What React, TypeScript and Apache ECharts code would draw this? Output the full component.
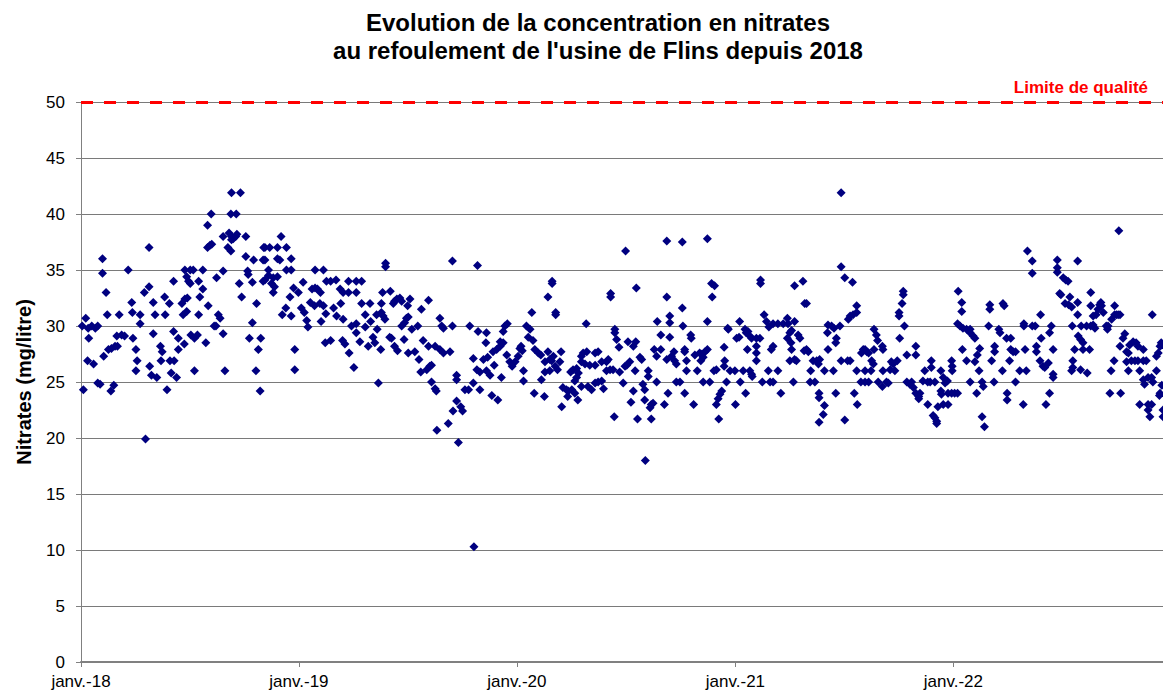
import React, { useEffect, useRef } from "react";
import * as echarts from "echarts";

const titleLines = [
  "Evolution de la concentration en nitrates",
  "au refoulement de l'usine de Flins depuis 2018",
];
const yAxisName = "Nitrates (mg/litre)";
const limitLabel = "Limite de qualité";
const limitValue = 50;
const xTickLabels: Record<number, string> = {
  2018: "janv.-18",
  2019: "janv.-19",
  2020: "janv.-20",
  2021: "janv.-21",
  2022: "janv.-22",
};
const startYear = 2018;
const endDayOffset = 1812;

// [days since 1 Jan 2018, nitrates mg/l]
const points2018: [number, number][] = [
  [2,30],[4,24.3],[8,30.7],[11,26.9],[12,29.8],[13,28.9],[18,30],[21,26.6],[24,29.8],[28,30],[28,24.9],[32,24.8],[36,36],[36,34.7],[38,27.3],[42,33],[44,31],[46,27.9],[50,24.2],[51,28],[55,24.7],[57,28.2],[60,29.1],[61,28.2],[64,31],[68,29.2],[73,29.1],[79,35],[85,32.1],[86,31.2],[87,28.9],[92,27.9],[92,26],[94,26.9],[99,31],[99,30.2],[106,33],[108,19.9],[114,37],[114,33.5],[115,26.4],[118,25.6],[121,32.1],[121,29.3],[124,31],[127,25.4],[133,28.2],[134,26.9],[136,27.7],[140,32.6],[141,31],[144,24.3],[148,32],[149,26.9],[151,25.8],[155,34],[155,29.5],[156,26.9],[160,25.4],[163,28.9],[163,27.9],[169,32],[171,31],[173,28.4],[174,35],[174,32.4],[177,34.4],[177,31.3],[178,32.5],[180,34],[183,35],[183,33.8],[184,29.2],[188,35],[190,28.9],[190,26],[195,29.2],[197,34],[197,31],[199,32.6],[204,35],[204,33.3],[209,28.5],[212,39],[212,37],[213,31.8],[216,37.2],[218,40],[219,37.3],[223,30],[226,30],[227,34.3],[230,31],[233,30.7],[238,34.9],[238,29.3],[238,38],[241,26],[246,37],[248,38.3],[251,36.7],[251,40],[252,38],[252,37.7],[252,41.9],[255,37.8],[259,38],[260,40],[261,38.2],[265,33.8],[267,41.9],[269,32.6],[276,38],[276,36.2],[279,34.9],[280,34.6],[282,28.9],[287,33.9],[287,30.3],[289,35.9],[293,26],[294,32],[297,27.9],[300,24.2],[301,28.9],[305,35.9],[305,34],[306,37],[308,37],[308,35.9],[308,34.1],[314,35],[314,34.5],[316,37],[319,33.8],[322,34.3],[322,33],[324,33.5],[329,37],[329,36],[329,34.4],[333,35.9],[335,38],[337,31],[343,31.6],[344,37],[344,35],[350,32.6],[352,36],[352,35],[352,30.9],[356,33.4],[358,27.9],[358,26.1],[364,33],
];
const points2019: [number, number][] = [
  [369,31.6],[372,33.9],[374,31.2],[378,30.5],[380,29.9],[384,32.1],[387,33.3],[391,31.8],[392,33.4],[392,35],[396,33.3],[400,32],[401,33],[402,30.4],[406,35],[406,31.8],[409,28.5],[410,31.1],[411,34],[418,34],[418,28.7],[423,31.6],[427,34.1],[428,30.9],[434,33.3],[435,32],[438,28.7],[439,33],[439,30.6],[442,28.4],[448,33],[448,34],[449,27.6],[453,30],[457,26.3],[461,33],[461,34],[461,30.2],[461,29.4],[467,28.6],[470,34],[470,32],[476,31],[476,29.9],[481,28.2],[484,32],[485,30.4],[489,29],[492,28.5],[495,31],[496,29.7],[498,24.9],[502,27.9],[503,32],[503,31.2],[505,33],[506,30.9],[509,30.6],[510,35.6],[510,35.3],[517,29],[518,33.1],[520,28.9],[523,32],[525,32.2],[525,28.2],[529,32.4],[530,27.8],[534,32.5],[537,32.2],[537,30],[541,28.8],[542,30.3],[545,30.7],[547,31.8],[548,30.8],[548,27.6],[551,32.4],[554,29.7],[559,27.7],[564,30],[566,27],[569,25.9],[570,31.5],[573,28.7],[579,26.1],[582,32.3],[582,28.2],[584,26.4],[587,26.5],[587,25],[593,28.2],[593,24.4],[595,24.2],[596,20.7],[601,30.7],[601,27.9],[604,30],[607,29.8],[607,27.6],[615,21.3],[618,27.7],[622,35.8],[622,30],[623,22.4],[629,25.6],[629,25.2],[629,23.3],[632,19.6],[636,22.8],[639,22.4],[643,24.3],[649,24.3],[651,30],[657,27.1],[657,24.9],[658,10.3],[663,26.1],[664,35.4],[665,29.5],[668,25.9],[668,24.3],[674,27],[678,28.5],[679,29.4],[679,26],[681,27.2],[685,25.6],[688,23.8],[690,27.7],[692,26.5],[696,27.9],[698,23.4],[702,28.2],[702,28.6],[704,25.4],[707,29.5],[707,28.5],[710,30],[713,27.4],[714,30.2],[718,26.8],[722,26.4],[727,26.8],
];
const points2020: [number, number][] = [
  [732,27.3],[735,28],[737,28.2],[739,27.8],[741,26],[741,25.1],[746,30],[749,29],[752,29.7],[755,31.2],[757,28.7],[759,24],[760,27.9],[766,27.6],[770,27.4],[771,25.2],[776,23.7],[777,25.9],[777,26.8],[782,27.7],[782,32.6],[785,26],[785,27],[788,26.9],[789,33.8],[789,34],[791,27.3],[794,26.4],[795,31.2],[795,31],[798,26.1],[802,26.8],[804,27.7],[805,22.8],[807,24.5],[813,24.3],[815,23.7],[816,24.2],[820,25.9],[822,24.3],[824,26.1],[827,24],[827,25.1],[830,26.2],[830,25.4],[832,23.4],[833,25.8],[838,27.3],[838,26.8],[838,24.6],[841,27.6],[844,26.6],[846,30.2],[847,27.7],[849,24.6],[852,26.5],[855,24.3],[861,26.5],[861,27.6],[861,24.9],[866,27.7],[866,25],[872,26.8],[872,25.1],[875,24.4],[880,26.8],[880,26],[883,27],[886,26.1],[887,32.9],[887,32.6],[891,26.1],[893,21.9],[894,29.7],[894,29.4],[897,28.8],[901,28.1],[902,25.9],[908,24.9],[911,26.4],[912,36.7],[914,26.5],[916,28.6],[919,26.8],[921,23.2],[925,28.2],[925,24.2],[928,26],[929,28.6],[930,33.4],[932,21.7],[936,27.2],[939,27],[941,24.8],[944,24.3],[944,23.4],[945,18],[950,26],[950,25.5],[953,22.7],[955,23],[955,21.7],[958,23.1],[960,27.9],[964,27.3],[964,25],[965,30.4],[971,27.9],[971,29.2],[977,23],[981,37.6],[981,32.6],[981,27],[983,24],[986,30.9],[986,30.3],[986,29],[989,27.3],[993,27.7],[994,26.9],[997,26.6],[997,25],[1003,25],[1007,37.5],[1007,31.6],[1008,30],[1011,27.9],[1011,27.7],[1011,24],[1014,26.9],[1014,26],[1021,29.2],[1022,28.9],[1026,23],[1028,27.4],[1032,26],[1036,27.6],[1038,26.9],[1040,27.5],[1042,27.2],[1042,25],[1045,27.7],[1049,37.8],[1049,30.4],[1049,27.9],[1053,25],[1056,33.8],[1057,32.6],[1060,26],[1061,33.6],[1064,26.1],[1064,23],[1067,23.5],[1068,21.7],[1070,23.9],[1073,24.2],[1077,28.1],[1077,26.4],[1078,26.9],[1081,25],[1083,29.8],[1084,29.7],[1087,26],[1095,26],
];
const points2021: [number, number][] = [
  [1096,23],[1098,28.9],[1102,29],[1103,30.4],[1104,25],[1109,26],[1112,29.7],[1113,24],[1114,29.4],[1116,27.9],[1117,29.5],[1120,29.1],[1120,26],[1123,28.9],[1123,25.7],[1124,25.5],[1131,28.9],[1131,28.2],[1131,27.6],[1131,26.9],[1137,28.9],[1138,34.1],[1138,33.8],[1141,25],[1144,31],[1148,30.4],[1151,26],[1152,29.9],[1154,25],[1156,27.9],[1159,30.2],[1159,28.2],[1159,25],[1167,30.2],[1167,26],[1172,24],[1176,30.2],[1183,30.7],[1183,28.9],[1184,30.2],[1187,29.4],[1187,26.9],[1189,28.5],[1190,29.6],[1190,27.9],[1193,25],[1195,30.4],[1195,33.6],[1195,27],[1198,26.9],[1201,29.2],[1204,28.9],[1209,34],[1211,27.8],[1212,32],[1215,32],[1215,27.9],[1218,27.7],[1221,25],[1222,26],[1226,26.9],[1229,25],[1232,26.9],[1235,26.6],[1236,24],[1236,23.6],[1236,21.4],[1237,27],[1243,22.1],[1245,22.9],[1245,26],[1250,29.4],[1251,30.1],[1251,27.9],[1257,30],[1260,26],[1261,29.8],[1264,28.5],[1264,24],[1265,28.9],[1271,30],[1273,41.9],[1273,35.3],[1273,26.9],[1279,34.3],[1279,21.6],[1284,26.9],[1285,30.6],[1288,30.9],[1288,26.9],[1292,33.9],[1293,31],[1295,24],[1299,31.2],[1299,31.8],[1299,26],[1300,23],[1306,25],[1307,27.6],[1310,27.9],[1313,27.9],[1313,25],[1313,26],[1316,27.7],[1319,27.6],[1319,25],[1323,26],[1324,26.9],[1327,26.6],[1328,29.7],[1328,27.9],[1332,29.2],[1334,28.7],[1335,25],[1342,28.2],[1342,24.6],[1343,27.9],[1343,26],[1349,25],[1352,24.9],[1355,26.1],[1357,26.8],[1360,26.6],[1363,26],[1367,26.9],[1370,30.9],[1370,31.2],[1371,28.9],[1375,32],[1377,33.1],[1377,32.8],[1379,30],[1383,27.4],[1383,25],[1388,24.8],[1391,25],[1394,24.5],[1398,28.2],[1398,27.4],[1398,24],[1403,23.7],[1403,23.5],[1405,24],[1410,25.1],[1413,26],[1418,25],[1418,23],[1422,25],[1424,26.9],[1424,26.3],[1427,22],[1430,21.8],[1430,25],[1433,21.5],[1433,21.3],[1435,22.8],[1440,26],[1440,24.2],[1441,23.9],[1444,25.4],[1444,23],[1447,24.9],[1451,25.1],[1452,24],[1452,23],[1458,24],[1458,26.9],[1459,26.4],[1459,26],
];
const points2022: [number, number][] = [
  [1463,24],[1468,24],[1469,33.1],[1468,30.2],[1472,30],[1475,32.1],[1475,31.3],[1476,27.9],[1477,29.8],[1483,29.7],[1483,26.9],[1489,29.7],[1489,29.4],[1489,25],[1494,29.1],[1497,28.9],[1497,26.8],[1500,24],[1501,27.4],[1504,26],[1505,28],[1509,25],[1509,21.9],[1511,24.6],[1513,21],[1520,30],[1522,31.9],[1522,31.5],[1525,26.9],[1529,25],[1530,28.2],[1530,27.7],[1537,29.7],[1539,29.4],[1543,26],[1544,32],[1546,31.8],[1550,28.9],[1551,24],[1551,23.4],[1555,26.9],[1557,28.9],[1557,27.9],[1561,27.7],[1565,27.7],[1565,25],[1572,26],[1578,23],[1579,30.2],[1579,30],[1581,27.9],[1583,26],[1585,36.7],[1593,35.8],[1593,34.7],[1593,30],[1598,30],[1600,28.2],[1600,27.7],[1606,26.9],[1607,31],[1608,28.9],[1611,26.4],[1614,26.3],[1616,23],[1620,26.7],[1622,29.4],[1622,24],[1625,30],[1628,27.9],[1628,25.7],[1628,25.4],[1635,35.9],[1635,35.2],[1635,34.8],[1639,32.9],[1641,32.8],[1645,34.3],[1648,32],[1649,34.1],[1653,34],[1654,31.9],[1656,32.6],[1659,31.7],[1659,26],[1660,30],[1661,26.9],[1661,26.3],[1664,27.9],[1669,35.8],[1669,32.1],[1669,31],[1670,29.1],[1674,28.8],[1674,26.1],[1675,30],[1678,28.5],[1678,27.9],[1684,30],[1685,25.8],[1689,27.9],[1691,30],[1691,33],[1691,31.8],[1695,30.1],[1695,30.9],[1698,29.8],[1700,31],[1703,31.5],[1706,31.9],[1708,32.1],[1709,31.8],[1712,31.2],[1717,30],[1719,29.7],[1720,30],[1723,24],[1725,26],[1726,30.6],[1730,26.9],[1731,31],[1731,31.8],[1734,31],[1737,31],[1738,38.5],[1740,31],[1740,28.2],[1741,24],[1745,28.9],[1748,29.3],[1751,27.7],[1751,26.8],[1754,27.6],[1754,26],[1756,28.3],[1759,26.9],[1762,28.6],[1765,26.9],[1767,28.5],[1770,28.2],[1770,26.9],[1773,26],[1773,23],[1779,26.9],[1779,27.9],[1779,25.2],[1781,24.8],[1784,26.9],[1787,25.4],[1787,23],[1787,22.5],[1790,21.9],[1793,25.4],[1793,23],[1794,31],[1795,25],[1801,26],[1801,27.3],[1804,27.6],[1806,23.8],[1807,28.2],[1807,24],[1809,28.5],[1810,28.3],[1810,24.7],[1812,22.5],[1812,21.9],
];

const dayToTime = (d: number) => new Date(startYear, 0, 1 + d).getTime();

export default function App() {
  const ref = useRef<HTMLDivElement>(null);
  useEffect(() => {
    if (!ref.current) return;
    const chart = echarts.init(ref.current, undefined, { renderer: "svg" });
    const all = [...points2018, ...points2019, ...points2020, ...points2021, ...points2022];
    const data = all.map(([d, v]) => [dayToTime(d), v]);
    const font = "Arial, 'Liberation Sans', sans-serif";
    chart.setOption({
      animation: false,
      backgroundColor: "#ffffff",
      title: {
        text: titleLines.join("\n"),
        left: 598,
        textAlign: "center",
        top: 8,
        padding: 0,
        textStyle: {
          fontFamily: font,
          fontWeight: "bold",
          fontSize: 24,
          lineHeight: 28,
          color: "#000",
        },
      },
      grid: {
        left: 81,
        right: 0,
        top: 102,
        bottom: 33,
        containLabel: false,
        outerBoundsMode: "none",
      },
      xAxis: {
        type: "time",
        min: dayToTime(0),
        max: dayToTime(endDayOffset),
        minInterval: 365 * 86400000,
        maxInterval: 366 * 86400000,
        axisLine: { show: true, lineStyle: { color: "#808080", width: 2 } },
        axisTick: { show: true, length: 5, lineStyle: { color: "#808080" } },
        splitLine: { show: false },
        axisLabel: {
          showMinLabel: true,
          showMaxLabel: false,
          color: "#000",
          fontFamily: font,
          fontSize: 17,
          margin: 11,
          formatter: (val: number) => {
            const dt = new Date(val);
            if (dt.getMonth() !== 0 || dt.getDate() !== 1) return "";
            return xTickLabels[dt.getFullYear()] ?? "";
          },
        },
      },
      yAxis: {
        type: "value",
        min: 0,
        max: 50,
        interval: 5,
        name: yAxisName,
        nameLocation: "middle",
        nameGap: 47,
        nameTextStyle: {
          fontFamily: font,
          fontWeight: "bold",
          fontSize: 20,
          color: "#000",
        },
        axisLine: { show: true, lineStyle: { color: "#808080", width: 1 } },
        axisTick: { show: true, length: 5, lineStyle: { color: "#808080" } },
        splitLine: { show: true, lineStyle: { color: "#7a7a7a", width: 1 } },
        axisLabel: {
          color: "#000",
          fontFamily: font,
          fontSize: 17,
          margin: 16,
        },
      },
      graphic: [
        {
          type: "text",
          right: 15,
          top: 79,
          style: {
            text: limitLabel,
            fill: "#ff0000",
            font: `bold 17px ${font}`,
          },
        },
      ],
      series: [
        {
          type: "scatter",
          symbol: "diamond",
          symbolSize: 9,
          itemStyle: { color: "#000080", opacity: 1 },
          data,
          markLine: {
            silent: true,
            symbol: ["none", "none"],
            label: { show: false },
            lineStyle: { color: "#ff0000", width: 3, type: [12, 11] },
            data: [{ yAxis: limitValue }],
          },
        },
      ],
    });
    return () => chart.dispose();
  }, []);
  return (
    <div
      ref={ref}
      style={{ position: "absolute", left: 0, top: 0, width: 1163, height: 695 }}
    />
  );
}
